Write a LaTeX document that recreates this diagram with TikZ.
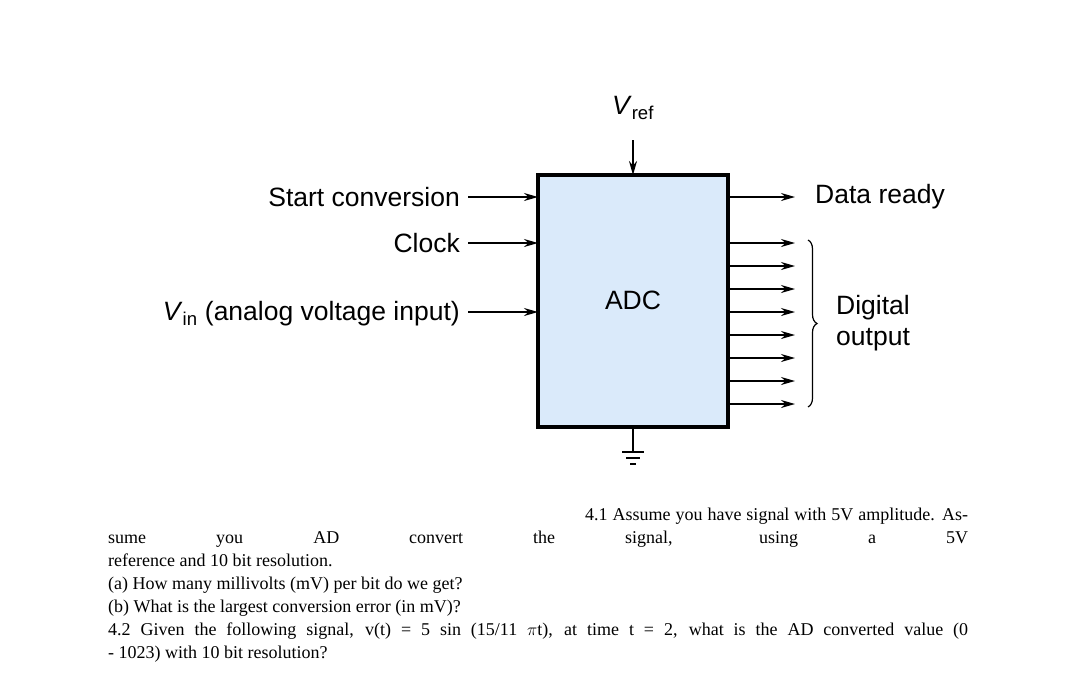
\documentclass[tikz,border=0pt]{standalone}
\usepackage{fontspec}
\setmainfont{Liberation Serif}
\setsansfont{Liberation Sans}
\usetikzlibrary{arrows.meta,decorations.pathreplacing}
\definecolor{adcblue}{RGB}{218,234,250}
\begin{document}
\begin{tikzpicture}[x=1pt,y=-1pt,>={Stealth[length=14pt,width=8pt]}]
        \tikzstyle{sig}=[->,line width=1.8pt]
        \tikzstyle{lbl}=[font=\sffamily\fontsize{26.5}{31}\selectfont,inner sep=0pt]
        \useasboundingbox (0,0) rectangle (1066,675);
        \fill[adcblue] (538,175) rectangle (728,427);
        \node[lbl] (ADC) at (633,300) {ADC};

        % inputs
        \node[lbl,anchor=east] (start) at (460,197) {Start conversion};
        \node[lbl,anchor=east] (clock) at (460,243) {Clock};
        \node[lbl,anchor=east] (vin) at (460,314) {\textit{V}\textsubscript{in} (analog voltage input)};
        \coordinate (startin) at (538,197);
        \coordinate (clockin) at (538,243);
        \coordinate (vinin) at (538,312);
        \draw[sig] (468,197) -- (startin);
        \draw[sig] (468,243) -- (clockin);
        \draw[sig] (468,312) -- (vinin);

        \node[lbl] (vref) at (633,108) {\textit{V}\textsubscript{ref}};
        \coordinate (vrefin) at (633,175);
        \draw[sig] (633,140) -- (vrefin);

        % outputs
        \node[lbl,anchor=west] (ready) at (815,197) {Data ready};
        \draw[sig] (728,197) -- (795,197);
        \foreach \y in {243,266,289,312,335,358,381,404}
            \draw[sig] (728,\y) -- (795,\y);
        \draw[decorate,decoration={brace,amplitude=9pt},line width=1.2pt] (808,240) -- (808,407);
        \node[lbl,align=left,anchor=west] (digital) at (836,323) {Digital\\output};

        \draw[line width=4pt] (538,175) rectangle (728,427);

        % ground
        \coordinate (gnd) at (633,452);
        \draw[line width=1.6pt] (633,427) -- (gnd);
        \draw[line width=1.6pt] (622,452) -- (644,452);
        \draw[line width=1.6pt] (626,458) -- (640,458);
        \draw[line width=1.6pt] (630,464) -- (636,464);

        \node[anchor=north west,text width=860pt,align=justify,inner sep=0pt,
              font=\fontsize{18}{23}\selectfont] (q) at (108,508)
        {\hspace*{477pt}4.1 Assume you have signal with 5V amplitude. Assume you AD convert the signal, using a 5V\linebreak
        reference and 10 bit resolution.\\
        (a) How many millivolts (mV) per bit do we get?\\
        (b) What is the largest conversion error (in mV)?\\
        4.2 Given the following signal, v(t) = 5 sin (15/11 $\pi$t), at time t = 2, what is the AD converted value (0\linebreak
        - 1023) with 10 bit resolution?};
    \end{tikzpicture}
\end{document}
